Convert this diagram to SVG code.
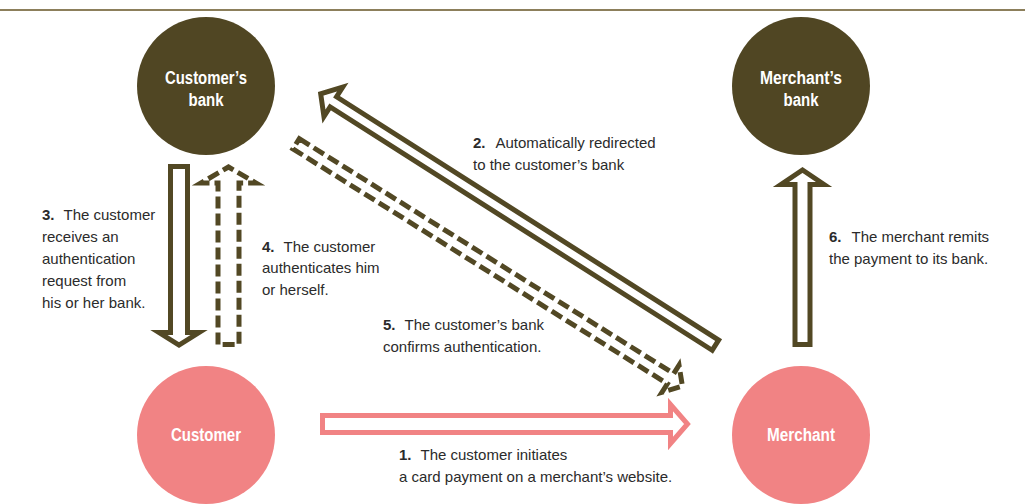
<svg xmlns="http://www.w3.org/2000/svg" width="1025" height="504" viewBox="0 0 1025 504">
<style>
.bank{fill:#504623}
.cust{fill:#f18384}
.nl{font-family:"Liberation Sans",Arial,sans-serif;font-weight:bold;font-size:18px;fill:#ffffff;text-anchor:middle}
.lb{font-family:"Liberation Sans",Arial,sans-serif;font-size:15px;fill:#2b2b2b}
.b{font-weight:bold}
.ar{fill:#ffffff;stroke:#524824;stroke-width:5;stroke-linejoin:miter}
.pk{fill:#ffffff;stroke:#f18384;stroke-width:5;stroke-linejoin:miter}
.da{stroke-dasharray:12 5}
</style>
<line x1="0" y1="10" x2="1025" y2="10" stroke="#8c7f5b" stroke-width="2"/>
<g id="customers-bank">
<circle class="bank" cx="206" cy="86" r="69"/>
<text class="nl" x="206" y="84" textLength="82" lengthAdjust="spacingAndGlyphs">Customer’s</text>
<text class="nl" x="206" y="106" textLength="35" lengthAdjust="spacingAndGlyphs">bank</text>
</g>
<g id="merchants-bank">
<circle class="bank" cx="801" cy="86" r="69"/>
<text class="nl" x="801" y="84" textLength="82" lengthAdjust="spacingAndGlyphs">Merchant’s</text>
<text class="nl" x="801" y="106" textLength="35" lengthAdjust="spacingAndGlyphs">bank</text>
</g>
<g id="customer">
<circle class="cust" cx="206" cy="435" r="69"/>
<text class="nl" x="206" y="441" textLength="70" lengthAdjust="spacingAndGlyphs">Customer</text>
</g>
<g id="merchant">
<circle class="cust" cx="801" cy="435" r="69"/>
<text class="nl" x="801" y="441" textLength="68" lengthAdjust="spacingAndGlyphs">Merchant</text>
</g>
<g id="connectors">
<path class="pk" d="M322.5,415.5 H670.5 V404.5 L687.5,424 L670.5,443.5 V432.5 H322.5 Z"/>
<path class="ar" transform="translate(715.4,345.2) rotate(212.5)" d="M0,-6 H453 V-17.5 L468,0 L453,17.5 V6 H0 Z"/>
<path class="ar" d="M170.5,166.5 V332.5 H159 L179,345 L199,332.5 H187.5 V166.5 Z"/>
<path class="ar da" d="M218,344.5 V183 H201 L228.5,167 L256,183 H239 V344.5 Z"/>
<path class="ar da" transform="translate(296.1,143.8) rotate(32.1)" d="M0,-6 H442 V-16 L456,0 L442,16 V6 H0 Z"/>
<path class="ar" d="M795,344.5 V184.5 H781 L802.5,170 L824,184.5 H810 V344.5 Z"/>
</g>
<g id="labels">
<text class="lb" x="399" y="460"><tspan class="b">1.</tspan><tspan dx="9">The customer initiates</tspan></text>
<text class="lb" x="399" y="482">a card payment on a merchant’s website.</text>
<text class="lb" x="473" y="148"><tspan class="b">2.</tspan><tspan dx="10">Automatically redirected</tspan></text>
<text class="lb" x="473" y="170">to the customer’s bank</text>
<text class="lb" x="42" y="220"><tspan class="b">3.</tspan><tspan dx="9">The customer</tspan></text>
<text class="lb" x="42" y="242">receives an</text>
<text class="lb" x="42" y="264">authentication</text>
<text class="lb" x="42" y="286">request from</text>
<text class="lb" x="42" y="308">his or her bank.</text>
<text class="lb" x="262" y="252"><tspan class="b">4.</tspan><tspan dx="9">The customer</tspan></text>
<text class="lb" x="262" y="273">authenticates him</text>
<text class="lb" x="262" y="295">or herself.</text>
<text class="lb" x="383" y="330"><tspan class="b">5.</tspan><tspan dx="9">The customer’s bank</tspan></text>
<text class="lb" x="383" y="352">confirms authentication.</text>
<text class="lb" x="829" y="242"><tspan class="b">6.</tspan><tspan dx="10">The merchant remits</tspan></text>
<text class="lb" x="829" y="264">the payment to its bank.</text>
</g>
</svg>
